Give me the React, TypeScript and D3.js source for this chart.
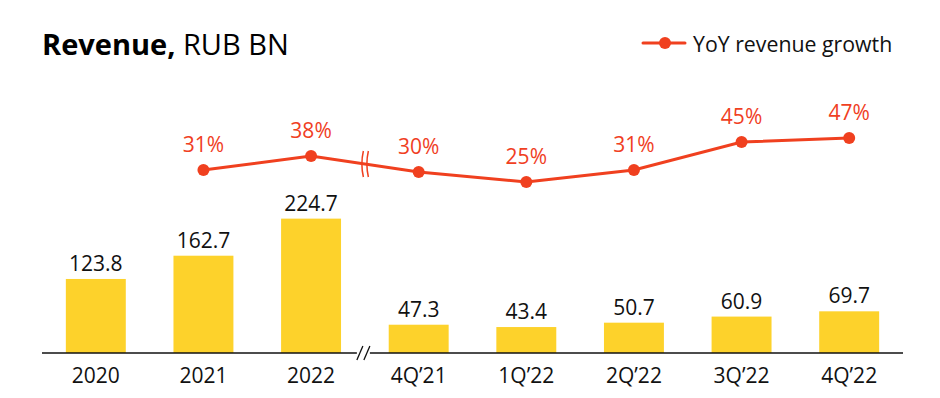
import * as d3 from 'd3';

const categories = ['2020', '2021', '2022', '4Q’21', '1Q’22', '2Q’22', '3Q’22', '4Q’22'];
const revenue = [123.8, 162.7, 224.7, 47.3, 43.4, 50.7, 60.9, 69.7];
const growthCats = ['2021', '2022', '4Q’21', '1Q’22', '2Q’22', '3Q’22', '4Q’22'];
const growth = [31, 38, 30, 25, 31, 45, 47];

const YELLOW = '#FDD22B';
const RED = '#F0401F';
const FONT = '"Open Sans", sans-serif';

export default function App() {
  const width = 940;
  const height = 398;
  const baseline = 353;

  const x = d3
    .scaleBand<string>()
    .domain(categories)
    .range([42, 903])
    .paddingInner(0.443)
    .paddingOuter(0.2215);

  const y = d3.scaleLinear().domain([0, 250]).range([baseline, 203.5]);
  const yLine = d3.scaleLinear().domain([0, 50]).range([232, 132]);

  const cx = (c: string) => (x(c) ?? 0) + x.bandwidth() / 2;

  const pts = growthCats.map((c, i) => ({ c, v: growth[i] }));
  const line = d3
    .line<{ c: string; v: number }>()
    .x((d) => cx(d.c))
    .y((d) => yLine(d.v));

  // break sits halfway between the yearly and the quarterly groups
  const breakX = (cx('2022') + cx('4Q’21')) / 2;
  const lineYAtBreak = (yLine(38) + yLine(30)) / 2;

  return (
    <svg width={width} height={height} style={{ position: 'absolute', left: 0, top: 0, fontFamily: FONT }}>
      <rect width={width} height={height} fill="#fff" />

      {/* Title */}
      <text x={42} y={55} fontSize={29} fill="#000">
        <tspan fontWeight={700}>Revenue,</tspan>
        <tspan> RUB BN</tspan>
      </text>

      {/* Legend */}
      <line x1={643} x2={685} y1={43} y2={43} stroke={RED} strokeWidth={3} strokeLinecap="round" />
      <circle cx={665} cy={43} r={6} fill={RED} />
      <text x={693} y={52} fontSize={21.3} fill="#111">
        YoY revenue growth
      </text>

      {/* Bars */}
      {categories.map((c, i) => (
        <g key={c}>
          <rect x={x(c)} y={y(revenue[i])} width={x.bandwidth()} height={baseline - y(revenue[i])} fill={YELLOW} />
          <text x={cx(c)} y={y(revenue[i]) - 8} textAnchor="middle" fontSize={21} fill="#111">
            {revenue[i].toFixed(1)}
          </text>
          <text x={cx(c)} y={383} textAnchor="middle" fontSize={21} fill="#111">
            {c}
          </text>
        </g>
      ))}

      {/* Axis with break */}
      <line x1={42} x2={breakX - 8} y1={baseline} y2={baseline} stroke="#111" strokeWidth={1.3} />
      <line x1={breakX + 5} x2={903} y1={baseline} y2={baseline} stroke="#111" strokeWidth={1.3} />
      {[-5, 2].map((dx) => (
        <line
          key={dx}
          x1={breakX + dx - 3}
          x2={breakX + dx + 3}
          y1={baseline + 7}
          y2={baseline - 7}
          stroke="#111"
          strokeWidth={1.3}
        />
      ))}

      {/* Growth line */}
      <path d={line(pts) ?? ''} fill="none" stroke={RED} strokeWidth={3} />
      {[-2.5, 2.5].map((dx) => {
        const bx = breakX + dx;
        return (
          <path
            key={dx}
            d={`M${bx + 1},${lineYAtBreak - 13} Q${bx - 2},${lineYAtBreak} ${bx + 1},${lineYAtBreak + 13}`}
            fill="none"
            stroke={RED}
            strokeWidth={1.5}
          />
        );
      })}
      {pts.map((d) => (
        <g key={d.c}>
          <circle cx={cx(d.c)} cy={yLine(d.v)} r={6} fill={RED} />
          <text x={cx(d.c)} y={yLine(d.v) - 18} textAnchor="middle" fontSize={21} fill={RED}>
            {d.v}%
          </text>
        </g>
      ))}
    </svg>
  );
}
